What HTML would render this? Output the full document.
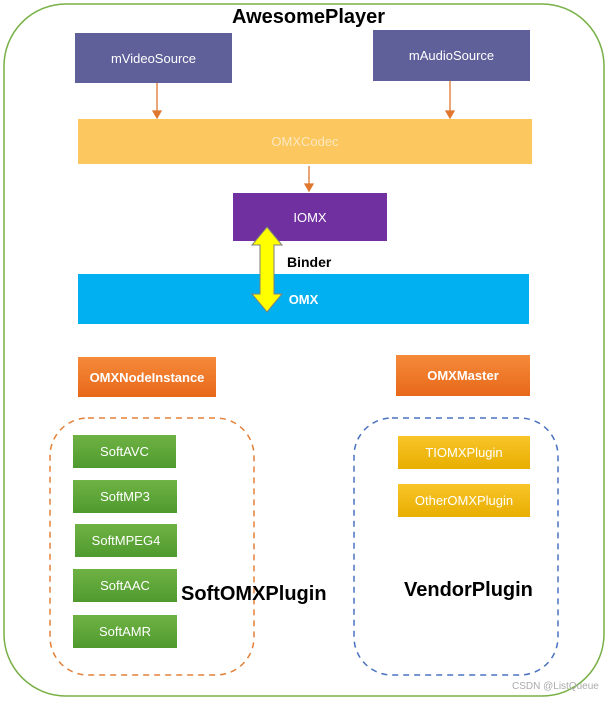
<!DOCTYPE html>
<html><head><style>
body{margin:0;width:609px;height:701px;background:#fff;position:relative;overflow:hidden;font-family:"Liberation Sans",sans-serif}
.b{position:absolute;display:flex;align-items:center;justify-content:center;color:#fff;font-size:13px}
.p{background:#5f5f9a}
.g{background:linear-gradient(#6fb244,#4f9a2e)}
.y{background:linear-gradient(#f8c52a,#e8ae00);color:#fff}
.o{background:linear-gradient(#f58a3a,#e8681a);font-weight:bold}
.t{position:absolute;font-weight:bold;color:#000}
</style></head><body>
<svg width="609" height="701" style="position:absolute;left:0;top:0">
<rect x="4" y="4" width="600" height="692" rx="62" fill="none" stroke="#78b045" stroke-width="1.5"/>
<rect x="50" y="418" width="204" height="257" rx="38" fill="none" stroke="#e2813a" stroke-width="1.5" stroke-dasharray="6,5"/>
<rect x="354" y="418" width="204" height="257" rx="38" fill="none" stroke="#4a72c0" stroke-width="1.5" stroke-dasharray="6,5"/>
</svg>
<div class="t" style="left:232px;top:6px;font-size:20px">AwesomePlayer</div>
<div class="b p" style="left:75px;top:33px;width:157px;height:50px">mVideoSource</div>
<div class="b p" style="left:373px;top:30px;width:157px;height:51px">mAudioSource</div>
<div class="b" style="left:78px;top:119px;width:454px;height:45px;background:#fbc75e;color:#fde8c0">OMXCodec</div>
<div class="b" style="left:233px;top:193px;width:154px;height:48px;background:#7030a0">IOMX</div>
<div class="b" style="left:78px;top:274px;width:451px;height:50px;background:#00b0f0;font-weight:bold">OMX</div>
<svg width="609" height="701" style="position:absolute;left:0;top:0">
<g stroke="#e0772f" stroke-width="1.3" fill="#e0772f">
<line x1="157" y1="83" x2="157" y2="113"/><polygon points="153,111 161,111 157,118"/>
<line x1="450" y1="81" x2="450" y2="113"/><polygon points="446,111 454,111 450,118"/>
<line x1="309" y1="166" x2="309" y2="186"/><polygon points="305,184 313,184 309,191"/>
</g>
<polygon points="267,227 282,245 274,245 274,294 282,294 267,312 252,294 260,294 260,245 252,245" fill="#ffff00" stroke="#7f7f7f" stroke-width="1"/>
</svg>
<div class="t" style="left:287px;top:254px;font-size:14px">Binder</div>
<div class="b o" style="left:78px;top:357px;width:138px;height:40px">OMXNodeInstance</div>
<div class="b o" style="left:396px;top:355px;width:134px;height:41px">OMXMaster</div>
<div class="b g" style="left:73px;top:435px;width:103px;height:33px">SoftAVC</div>
<div class="b g" style="left:73px;top:480px;width:104px;height:33px">SoftMP3</div>
<div class="b g" style="left:75px;top:524px;width:102px;height:33px">SoftMPEG4</div>
<div class="b g" style="left:73px;top:569px;width:104px;height:33px">SoftAAC</div>
<div class="b g" style="left:73px;top:615px;width:104px;height:33px">SoftAMR</div>
<div class="b y" style="left:398px;top:436px;width:132px;height:33px">TIOMXPlugin</div>
<div class="b y" style="left:398px;top:484px;width:132px;height:33px">OtherOMXPlugin</div>
<div class="t" style="left:181px;top:583px;font-size:20px">SoftOMXPlugin</div>
<div class="t" style="left:404px;top:579px;font-size:20px">VendorPlugin</div>
<div style="position:absolute;left:512px;top:681px;font-size:10px;color:#aaa">CSDN @ListQueue</div>
</body></html>
